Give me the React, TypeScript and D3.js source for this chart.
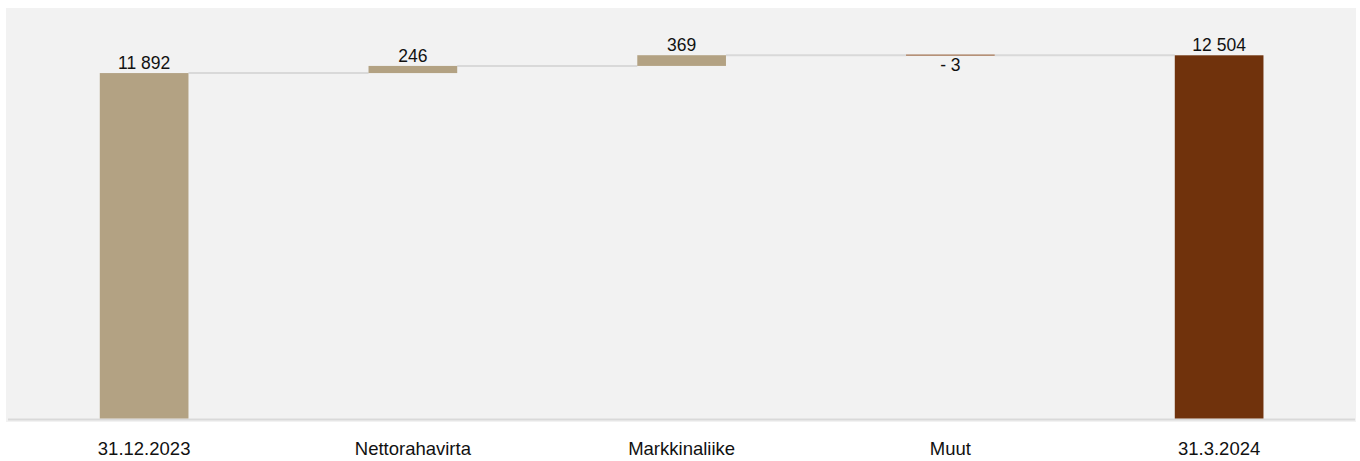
import React, {useEffect, useRef} from 'react';
import * as d3 from 'd3';

// Waterfall: start balance, changes, end balance
const categories = ['31.12.2023', 'Nettorahavirta', 'Markkinaliike', 'Muut', '31.3.2024'];
const values = [11892, 246, 369, -3, 12504];
const kinds = ['total', 'delta', 'delta', 'delta', 'end'];
const valueLabels = ['11 892', '246', '369', '- 3', '12 504'];

const WIDTH = 1360;
const HEIGHT = 461;

export default function App() {
  const svgRef = useRef<SVGSVGElement>(null);

  useEffect(() => {
    if (!svgRef.current) return;
    const svg = d3.select(svgRef.current);
    svg.selectAll('*').remove();

    const font = 'Liberation Sans, Arial, sans-serif';

    // background panel
    svg
      .append('rect')
      .attr('x', 6)
      .attr('y', 8)
      .attr('width', 1350)
      .attr('height', 414)
      .attr('fill', '#f2f2f2');

    // Compute bar extents
    let running = 0;
    const bars = categories.map((c, i) => {
      const v = values[i];
      let start = 0;
      let end = 0;
      if (kinds[i] === 'delta') {
        start = running;
        end = running + v;
        running = end;
      } else {
        start = 0;
        end = v;
        running = v;
      }
      return {c, v, start, end, kind: kinds[i], label: valueLabels[i]};
    });

    const x = d3
      .scaleBand()
      .domain(categories)
      .range([9.75, 1353.5])
      .paddingInner(0.67)
      .paddingOuter(0.335);

    const y = d3.scaleLinear().domain([0, 12504]).range([418.5, 55.3]);

    // baseline
    svg
      .append('line')
      .attr('x1', 8)
      .attr('x2', 1355)
      .attr('y1', 419.5)
      .attr('y2', 419.5)
      .attr('stroke', '#d9d9d9')
      .attr('stroke-width', 2);

    // connectors
    bars.slice(0, -1).forEach((b, i) => {
      const next = bars[i + 1];
      const yy = y(b.end);
      svg
        .append('line')
        .attr('x1', (x(b.c) || 0) + x.bandwidth())
        .attr('x2', x(next.c) || 0)
        .attr('y1', yy)
        .attr('y2', yy)
        .attr('stroke', '#d9d9d9')
        .attr('stroke-width', 2);
    });

    // bars
    bars.forEach((b) => {
      const top = y(Math.max(b.start, b.end));
      const bottom = y(Math.min(b.start, b.end));
      const h = bottom - top;
      if (h < 1.5) {
        svg
          .append('line')
          .attr('x1', x(b.c) || 0)
          .attr('x2', (x(b.c) || 0) + x.bandwidth())
          .attr('y1', top)
          .attr('y2', top)
          .attr('stroke', '#a0704f')
          .attr('stroke-width', 1.2);
      } else {
        svg
          .append('rect')
          .attr('x', x(b.c) || 0)
          .attr('y', top)
          .attr('width', x.bandwidth())
          .attr('height', h)
          .attr('fill', b.kind === 'end' ? '#70320c' : '#b3a283');
      }

      const cx = (x(b.c) || 0) + x.bandwidth() / 2;
      svg
        .append('text')
        .attr('x', cx)
        .attr('y', b.v < 0 ? bottom + 16 : top - 4)
        .attr('text-anchor', 'middle')
        .attr('font-family', font)
        .attr('font-size', 17.5)
        .attr('fill', '#111')
        .text(b.label);

      svg
        .append('text')
        .attr('x', cx)
        .attr('y', 454.5)
        .attr('text-anchor', 'middle')
        .attr('font-family', font)
        .attr('font-size', 18.5)
        .attr('fill', '#111')
        .text(b.c);
    });
  }, []);

  return (
    <svg
      ref={svgRef}
      width={WIDTH}
      height={HEIGHT}
      style={{position: 'absolute', left: 0, top: 0, background: '#fff'}}
    />
  );
}
